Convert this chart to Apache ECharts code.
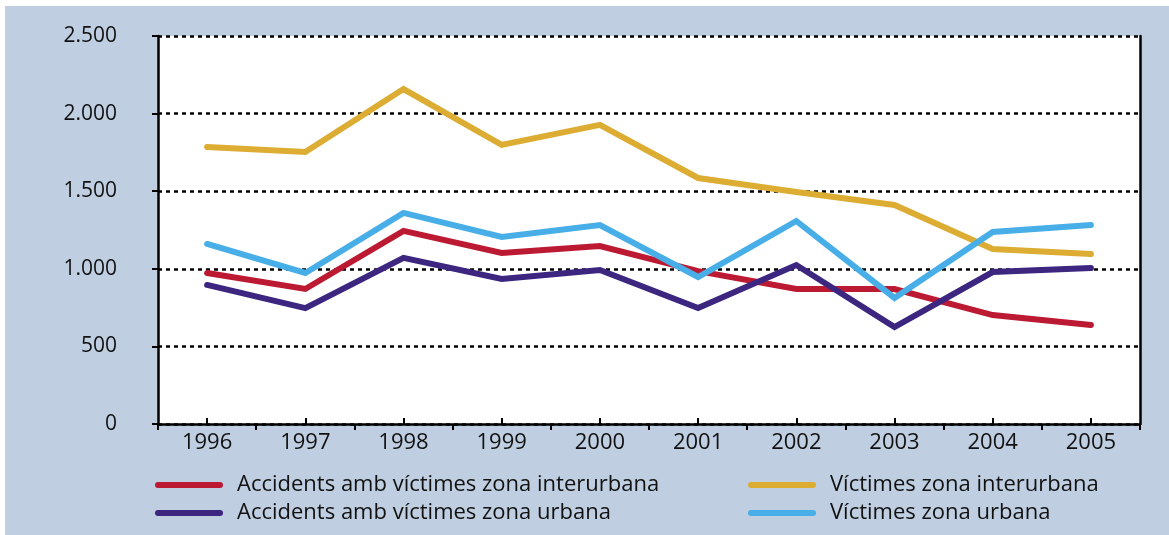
<!DOCTYPE html>
<html lang="ca">
<head>
<meta charset="utf-8">
<title>Accidents i víctimes 1996-2005</title>
<script src="https://cdn.jsdelivr.net/npm/echarts@6/dist/echarts.min.js"></script>
<style>
    body { margin:0; background:#fff; }
    #bg { position:absolute; left:5px; top:6px; width:1164px; height:529px; background:#bfcfe1; }
    #chart { position:absolute; left:0; top:0; width:1169px; height:535px; }
</style>
</head>
<body>
<div id="bg"></div>
<div id="chart"></div>
<script>
// anys
var years = ['1996','1997','1998','1999','2000','2001','2002','2003','2004','2005'];
// sèries
var accInterurbana = [973, 870, 1244, 1102, 1147, 985, 870, 870, 702, 638];
var accUrbana      = [896, 747, 1070, 934, 992, 747, 1024, 625, 979, 1005];
var victInterurbana = [1785, 1753, 2158, 1798, 1927, 1585, 1495, 1411, 1128, 1095];
var victUrbana      = [1160, 973, 1360, 1205, 1282, 947, 1308, 812, 1237, 1282];
// etiquetes eix Y
var yTicks = ['0','500','1.000','1.500','2.000','2.500'];

var names = ['Accidents amb víctimes zona interurbana','Accidents amb víctimes zona urbana',
             'Víctimes zona interurbana','Víctimes zona urbana'];
var colors = ['#bc1a32','#3c2680','#dcad32','#48aee8'];

var font = 'Open Sans';
var lineIcon = 'path://M3,0 H65 A3,3 0 0 1 65,6 H3 A3,3 0 0 1 3,0 Z';

function serie(i, data, z){
    return {
        name: names[i], type: 'line', data: data,
        xAxisIndex: 0, yAxisIndex: 0,
        symbol: 'none', z: z,
        lineStyle: { color: colors[i], width: 6, cap: 'round', join: 'miter' },
        itemStyle: { color: colors[i] }
    };
}

var legendText = { color:'#111', fontFamily: font, fontSize: 22, lineHeight: 24, padding:[0,0,0,9] };

var myChart = echarts.init(document.getElementById('chart'));
var option = {
    backgroundColor: 'transparent',
    animation: false,
    grid: { left:158, right:29, top:36, bottom:111, show:true, backgroundColor:'#fff', borderWidth:0 },
    legend: [{
        orient:'vertical', left:150, top:468, itemWidth:68, itemHeight:6, itemGap:4,
        icon: lineIcon, data:[names[0], names[1]], textStyle: legendText
    },{
        orient:'vertical', left:743, top:468, itemWidth:68, itemHeight:6, itemGap:4,
        icon: lineIcon, data:[names[2], names[3]], textStyle: legendText
    }],
    xAxis: [{
        type:'category', data: years, boundaryGap:true, position:'bottom',
        axisLine:{ lineStyle:{ color:'#000', width:2.5 } },
        axisTick:{ show:true, inside:false, length:6, lineStyle:{ color:'#000', width:2 } },
        axisLabel:{ color:'#111', fontFamily: font, fontSize:22, margin:8 }
    },{
        type:'category', data: years, boundaryGap:true, position:'bottom',
        axisLine:{ show:false },
        axisTick:{ show:true, inside:true, alignWithLabel:true, length:6, lineStyle:{ color:'#000', width:2 } },
        axisLabel:{ show:false }
    }],
    yAxis: [{
        type:'value', min:0, max:2500, interval:500, position:'left',
        axisLine:{ show:true, lineStyle:{ color:'#000', width:2.5 } },
        axisTick:{ show:true, inside:false, length:6, lineStyle:{ color:'#000', width:2 } },
        axisLabel:{ color:'#111', fontFamily: font, fontSize:21, margin:41,
            formatter:function(v){ return yTicks[Math.round(v/500)]; } },
        splitLine:{ show:true, lineStyle:{ color:'#000', width:2.5, type:[4,4] } }
    },{
        type:'value', min:0, max:2500, interval:500, position:'right',
        axisLine:{ show:true, lineStyle:{ color:'#000', width:2.5 } },
        axisTick:{ show:false }, axisLabel:{ show:false }, splitLine:{ show:false }
    }],
    series: [
        serie(0, accInterurbana, 2),
        serie(2, victInterurbana, 3),
        serie(1, accUrbana, 4),
        serie(3, victUrbana, 5)
    ]
};
myChart.setOption(option);
</script>
</body>
</html>
